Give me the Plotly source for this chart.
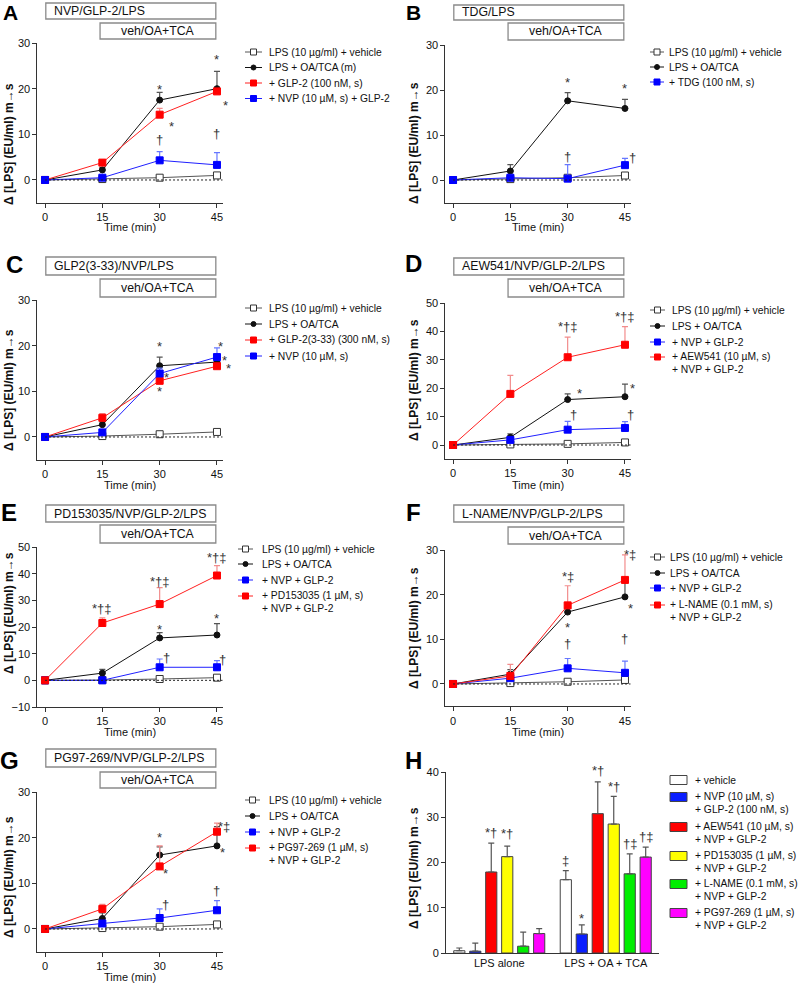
import plotly.graph_objects as go

W, H = 800, 984
FONT = "Liberation Sans, Arial, sans-serif"

time = [0, 15, 30, 45]
x_ticks = [0, 15, 30, 45]

# ---------------- Panel A ----------------
A_vehicle = [0.0, 0.2, 0.5, 1.0]
A_vehicle_err = [0.0, 0.1, 0.4, 0.2]
A_oatca = [0.0, 2.2, 17.5, 20.0]
A_oatca_err = [0.0, 0.5, 1.7, 3.8]
A_glp2 = [0.0, 3.8, 14.3, 19.4]
A_glp2_err = [0.0, 0.6, 1.4, 0.4]
A_nvp = [0.0, 0.5, 4.3, 3.3]
A_nvp_err = [0.0, 0.3, 1.9, 2.7]
A_names = ["LPS (10 µg/ml) + vehicle", "LPS + OA/TCA (m)", "+ GLP-2 (100 nM, s)", "+ NVP (10 µM, s) + GLP-2"]
A_marks = [(30, 20.5, "*"), (45, 27.0, "*"), (47.2, 17.0, "*"), (33.0, 12.4, "*"), (30, 8.9, "†"), (45, 10.2, "†")]

# ---------------- Panel B ----------------
B_vehicle = [0.0, 0.2, 0.5, 1.0]
B_vehicle_err = [0.0, 0.1, 0.3, 0.2]
B_oatca = [0.0, 2.0, 17.6, 15.9]
B_oatca_err = [0.0, 1.4, 1.8, 2.0]
B_tdg = [0.0, 0.5, 0.3, 3.3]
B_tdg_err = [0.0, 0.3, 3.1, 1.5]
B_names = ["LPS (10 µg/ml) + vehicle", "LPS + OA/TCA", "+ TDG (100 nM, s)"]
B_marks = [(30, 22.3, "*"), (45, 20.9, "*"), (30, 5.3, "†"), (47.1, 5.1, "†")]

# ---------------- Panel C ----------------
C_vehicle = [0.0, 0.2, 0.6, 1.1]
C_vehicle_err = [0.0, 0.1, 0.4, 0.2]
C_oatca = [0.0, 2.7, 15.6, 16.4]
C_oatca_err = [0.0, 0.6, 1.9, 1.0]
C_glp233 = [0.0, 4.2, 12.3, 15.5]
C_glp233_err = [0.0, 0.9, 0.8, 0.4]
C_nvp = [0.0, 1.0, 13.9, 17.5]
C_nvp_err = [0.0, 0.3, 1.2, 2.0]
C_names = ["LPS (10 µg/ml) + vehicle", "LPS + OA/TCA", "+ GLP-2(3-33) (300 nM, s)", "+ NVP (10 µM, s)"]
C_marks = [(30, 20.5, "*"), (31.8, 13.6, "*"), (30, 10.7, "*"), (46.0, 20.4, "*"), (47.0, 17.5, "*"), (48.0, 15.6, "*")]

# ---------------- Panel D ----------------
D_vehicle = [0.0, 0.2, 0.4, 0.9]
D_vehicle_err = [0.0, 0.1, 0.3, 0.3]
D_oatca = [0.0, 2.7, 16.0, 17.0]
D_oatca_err = [0.0, 1.2, 2.0, 4.4]
D_nvp = [0.0, 1.8, 5.4, 6.0]
D_nvp_err = [0.0, 0.4, 2.9, 2.2]
D_aew = [0.0, 18.0, 30.9, 35.3]
D_aew_err = [0.0, 6.5, 7.1, 6.4]
D_names = ["LPS (10 µg/ml) + vehicle", "LPS + OA/TCA", "+ NVP + GLP-2", "+ AEW541 (10 µM, s)<br>+ NVP + GLP-2"]
D_marks = [(30, 41.8, "*†‡"), (45, 45.3, "*†‡"), (33.1, 19.2, "*"), (47.0, 21.0, "*"), (31.4, 10.6, "†"), (46.4, 10.8, "†")]

# ---------------- Panel E ----------------
E_vehicle = [0.0, 0.1, 0.5, 1.0]
E_vehicle_err = [0.0, 0.1, 0.3, 0.3]
E_oatca = [0.0, 2.7, 15.9, 17.0]
E_oatca_err = [0.0, 1.4, 2.0, 4.3]
E_nvp = [0.0, 0.0, 4.9, 4.9]
E_nvp_err = [0.0, 0.2, 3.1, 2.5]
E_pd = [0.0, 21.5, 28.6, 39.3]
E_pd_err = [0.0, 1.9, 6.2, 3.7]
E_names = ["LPS (10 µg/ml) + vehicle", "LPS + OA/TCA", "+ NVP + GLP-2", "+ PD153035 (1 µM, s)<br>+ NVP + GLP-2"]
E_marks = [(15, 27.1, "*†‡"), (30, 36.9, "*†‡"), (45, 46.0, "*†‡"), (30, 20.3, "*"), (45, 24.4, "*"), (31.9, 8.5, "†"), (46.4, 7.8, "†")]

# ---------------- Panel F ----------------
F_vehicle = [0.0, 0.2, 0.5, 0.9]
F_vehicle_err = [0.0, 0.1, 0.3, 0.2]
F_oatca = [0.0, 2.2, 16.1, 19.5]
F_oatca_err = [0.0, 1.0, 1.0, 3.7]
F_nvp = [0.0, 1.3, 3.5, 2.5]
F_nvp_err = [0.0, 0.6, 2.2, 2.6]
F_lname = [0.0, 1.8, 17.6, 23.3]
F_lname_err = [0.0, 2.6, 4.4, 5.6]
F_names = ["LPS (10 µg/ml) + vehicle", "LPS + OA/TCA", "+ NVP + GLP-2", "+ L-NAME (0.1 mM, s)<br>+ NVP + GLP-2"]
F_marks = [(30, 24.0, "*‡"), (30, 13.4, "*"), (30, 9.0, "†"), (45, 10.2, "†"), (46.5, 17.5, "*"), (46.4, 29.0, "*‡")]

# ---------------- Panel G ----------------
G_vehicle = [0.0, 0.2, 0.5, 1.0]
G_vehicle_err = [0.0, 0.1, 0.3, 0.2]
G_oatca = [0.0, 2.3, 16.2, 18.2]
G_oatca_err = [0.0, 1.2, 1.8, 4.2]
G_nvp = [0.0, 1.2, 2.4, 4.1]
G_nvp_err = [0.0, 0.5, 2.0, 2.1]
G_pg = [0.0, 4.4, 13.7, 21.3]
G_pg_err = [0.0, 1.0, 4.5, 1.9]
G_names = ["LPS (10 µg/ml) + vehicle", "LPS + OA/TCA", "+ NVP + GLP-2", "+ PG97-269 (1 µM, s)<br>+ NVP + GLP-2"]
G_marks = [(30, 20.6, "*"), (31.6, 12.7, "*"), (46.5, 17.4, "*"), (46.8, 22.4, "*‡"), (31.5, 5.3, "†"), (45, 8.4, "†")]

# ---------------- Panel H (bars) ----------------
H_categories = ["LPS alone", "LPS + OA + TCA"]
H_vehicle = [0.5, 16.2]
H_vehicle_err = [0.6, 2.0]
H_nvp = [0.4, 4.2]
H_nvp_err = [1.8, 2.0]
H_aew = [17.9, 30.8]
H_aew_err = [6.4, 7.0]
H_pd = [21.3, 28.5]
H_pd_err = [2.3, 6.1]
H_lname = [1.5, 17.5]
H_lname_err = [3.1, 4.4]
H_pg = [4.3, 21.2]
H_pg_err = [1.1, 2.2]
H_names = ["+ vehicle", "+ NVP (10 µM, s)<br>+ GLP-2 (100 nM, s)", "+ AEW541 (10 µM, s)<br>+ NVP + GLP-2",
           "+ PD153035 (1 µM, s)<br>+ NVP + GLP-2", "+ L-NAME (0.1 mM, s)<br>+ NVP + GLP-2",
           "+ PG97-269 (1 µM, s)<br>+ NVP + GLP-2"]
H_colors = ["#ffffff", "#0a1eff", "#ff0000", "#ffff00", "#00ee00", "#ff00ff"]
# (category index, bar index, y, text)
H_marks = [(0, 2, 26.7, "*†"), (0, 3, 26.4, "*†"), (1, 0, 20.4, "‡"), (1, 1, 8.3, "*"),
           (1, 2, 40.3, "*†"), (1, 3, 36.8, "*†"), (1, 4, 24.1, "†‡"), (1, 5, 25.7, "†‡")]

STYLE = {
    'veh': dict(line='#555555', symbol='square', fill='#ffffff', edge='#333333', size=7, err='#666666'),
    'oa': dict(line='#111111', symbol='circle', fill='#111111', edge='#111111', size=6, err='#555555'),
    'red': dict(line='#ff2020', symbol='square', fill='#ff0000', edge='#ff0000', size=7, err='#f28c8c'),
    'blue': dict(line='#2020ff', symbol='square', fill='#0000ff', edge='#0000ff', size=7, err='#6677ff'),
}

# layout geometry in pixels
panels = [
    dict(letter='A', box="NVP/GLP-2/LPS", xpx=(37.4, 222.7), ypx=(43, 202.8), yr=[-5, 30], yt=[0, 10, 20, 30],
         b1=(3, 19), b2=(23, 39), lab=(10, 0), ttl=(9, 144), xt=227,
         leg=dict(sx=(245, 262), tx=267, rows=[52, 67.5, 83, 98.5]),
         series=[('veh', A_vehicle, A_vehicle_err), ('oa', A_oatca, A_oatca_err), ('red', A_glp2, A_glp2_err), ('blue', A_nvp, A_nvp_err)],
         names=A_names, marks=A_marks),
    dict(letter='B', box="TDG/LPS", xpx=(445.4, 630.7), ypx=(45, 202.5), yr=[-5, 30], yt=[0, 10, 20, 30],
         b1=(5, 20), b2=(23, 40), lab=(414, 0), ttl=(414, 143), xt=227,
         leg=dict(sx=(650, 664), tx=667, rows=[52, 67, 82]),
         series=[('veh', B_vehicle, B_vehicle_err), ('oa', B_oatca, B_oatca_err), ('blue', B_tdg, B_tdg_err)],
         names=B_names, marks=B_marks),
    dict(letter='C', box="GLP2(3-33)/NVP/LPS", xpx=(37.4, 222.7), ypx=(300, 459.8), yr=[-5, 30], yt=[0, 10, 20, 30],
         b1=(257, 275), b2=(279, 297), lab=(14, 264), ttl=(9, 390), xt=485,
         leg=dict(sx=(245, 262), tx=267, rows=[308, 324, 340, 356]),
         series=[('veh', C_vehicle, C_vehicle_err), ('oa', C_oatca, C_oatca_err), ('red', C_glp233, C_glp233_err), ('blue', C_nvp, C_nvp_err)],
         names=C_names, marks=C_marks),
    dict(letter='D', box="AEW541/NVP/GLP-2/LPS", xpx=(445.4, 630.7), ypx=(303, 459.2), yr=[-5, 50], yt=[0, 10, 20, 30, 40, 50],
         b1=(258, 275), b2=(279, 297), lab=(414, 263), ttl=(414, 380), xt=485,
         leg=dict(sx=(650, 665), tx=670, rows=[310, 326, 342, 357]),
         series=[('veh', D_vehicle, D_vehicle_err), ('oa', D_oatca, D_oatca_err), ('blue', D_nvp, D_nvp_err), ('red', D_aew, D_aew_err)],
         names=D_names, marks=D_marks),
    dict(letter='E', box="PD153035/NVP/GLP-2/LPS", xpx=(37.4, 222.7), ypx=(547, 707), yr=[-10, 50], yt=[-10, 0, 10, 20, 30, 40, 50],
         b1=(505, 522), b2=(525, 543), lab=(9, 512), ttl=(9, 613), xt=732,
         leg=dict(sx=(238, 253), tx=260, rows=[549, 564, 580, 596]),
         series=[('veh', E_vehicle, E_vehicle_err), ('oa', E_oatca, E_oatca_err), ('blue', E_nvp, E_nvp_err), ('red', E_pd, E_pd_err)],
         names=E_names, marks=E_marks),
    dict(letter='F', box="L-NAME/NVP/GLP-2/LPS", xpx=(445.4, 630.7), ypx=(550, 706.3), yr=[-5, 30], yt=[0, 10, 20, 30],
         b1=(505, 522), b2=(527, 544), lab=(414, 512), ttl=(414, 628), xt=732,
         leg=dict(sx=(650, 665), tx=668, rows=[557, 573, 588, 605]),
         series=[('veh', F_vehicle, F_vehicle_err), ('oa', F_oatca, F_oatca_err), ('blue', F_nvp, F_nvp_err), ('red', F_lname, F_lname_err)],
         names=F_names, marks=F_marks),
    dict(letter='G', box="PG97-269/NVP/GLP-2/LPS", xpx=(37.4, 222.7), ypx=(792, 951.8), yr=[-5, 30], yt=[0, 10, 20, 30],
         b1=(749, 767), b2=(772, 788), lab=(9, 760), ttl=(9, 877), xt=977,
         leg=dict(sx=(245, 260), tx=267, rows=[800, 816, 832, 848]),
         series=[('veh', G_vehicle, G_vehicle_err), ('oa', G_oatca, G_oatca_err), ('blue', G_nvp, G_nvp_err), ('red', G_pg, G_pg_err)],
         names=G_names, marks=G_marks),
]


def xd(l, r):
    return [l / W, r / W]


def yd(t, b):
    return [1 - b / H, 1 - t / H]


def px(p):
    return p / W


def py(p):
    return 1 - p / H


fig = go.Figure()
layout = dict(width=W, height=H, margin=dict(l=0, r=0, t=0, b=0, autoexpand=False), plot_bgcolor='white',
              paper_bgcolor='white', font=dict(family=FONT, size=11, color='#111'), showlegend=False,
              shapes=[], annotations=[])
shapes = layout['shapes']
anns = layout['annotations']

XR = [-2, 46.5]
box1_x = [0.2, 44.7]
box2_x = [14.4, 44.7]
LEG_FONT = dict(size=10.3, color='#111')
MARK_FONT = dict(size=13, color='#333')
BOX_FONT = dict(size=12.3, color='#111')
LETTER_FONT = dict(size=24, color='#000')


def text_ann(x, y, text, xanchor='left', font=LEG_FONT, multiline=False):
    if multiline:
        return dict(xref='paper', yref='paper', x=px(x), y=py(y - 8), xanchor=xanchor, yanchor='top', text=text,
                    align='left', showarrow=False, font=font)
    return dict(xref='paper', yref='paper', x=px(x), y=py(y), xanchor=xanchor, yanchor='middle', text=text,
                showarrow=False, font=font)


def letter_ann(x, y, letter):
    if y <= 0:
        # top row: anchor to the top edge so the letter is not cut off
        return dict(xref='paper', yref='paper', x=px(x), y=1, xanchor='center', yanchor='top', borderpad=0,
                    text='<b>%s</b>' % letter, showarrow=False, font=dict(size=21, color='#000'))
    return text_ann(x, y, '<b>%s</b>' % letter, xanchor='center', font=LETTER_FONT)


for i, p in enumerate(panels, start=1):
    sfx = '' if i == 1 else str(i)
    xa, ya = 'x' + sfx, 'y' + sfx
    for (kind, yv, ev), nm in zip(p['series'], p['names']):
        st = STYLE[kind]
        fig.add_trace(go.Scatter(
            x=time, y=yv, name=nm.replace('<br>', ' '), xaxis=xa, yaxis=ya, mode='lines+markers', cliponaxis=False,
            line=dict(color=st['line'], width=1),
            marker=dict(symbol=st['symbol'], size=st['size'], color=st['fill'], line=dict(color=st['edge'], width=1)),
            error_y=dict(type='data', symmetric=False, array=ev, arrayminus=[0] * len(ev), color=st['err'],
                         thickness=1.2, width=3)))
    x0p, x1p = p['xpx']
    t0p, b0p = p['ypx']
    ppx = (x1p - x0p) / (XR[1] - XR[0])
    ppy = (b0p - t0p) / (p['yr'][1] - p['yr'][0])
    layout['xaxis' + sfx] = dict(domain=xd(x0p, x1p), anchor=ya, range=XR, tickvals=x_ticks, showline=True,
                                 linecolor='#333', linewidth=1, ticks='outside', ticklen=4, tickcolor='#333',
                                 showgrid=False, zeroline=False, tickfont=dict(size=11))
    layout['yaxis' + sfx] = dict(domain=yd(t0p, b0p), anchor=xa, range=p['yr'], tickvals=p['yt'], showline=True,
                                 linecolor='#333', linewidth=1, ticks='outside', ticklen=4, tickcolor='#333',
                                 showgrid=False, zeroline=False, tickfont=dict(size=11))
    # dotted zero line
    shapes.append(dict(type='line', xref=xa, yref=ya, x0=0, x1=XR[1], y0=0, y1=0,
                       line=dict(color='#222', width=1, dash='2px,2px')))
    # treatment boxes
    for bx, (bt, bb) in ((box1_x, p['b1']), (box2_x, p['b2'])):
        shapes.append(dict(type='rect', xref=xa, yref='paper', x0=bx[0], x1=bx[1], y0=py(bb), y1=py(bt),
                           line=dict(color='#8a8a8a', width=1.3), fillcolor='white', layer='below'))
    anns.append(dict(xref=xa, yref='paper', x=box1_x[0], xanchor='left', xshift=6,
                     y=py((p['b1'][0] + p['b1'][1]) / 2), yanchor='middle', text=p['box'],
                     showarrow=False, font=BOX_FONT))
    anns.append(dict(xref=xa, yref='paper', x=(box2_x[0] + box2_x[1]) / 2, xanchor='center',
                     y=py((p['b2'][0] + p['b2'][1]) / 2), yanchor='middle', text="veh/OA+TCA",
                     showarrow=False, font=BOX_FONT))
    # panel letter
    anns.append(letter_ann(p['lab'][0], p['lab'][1], p['letter']))
    # axis titles
    anns.append(dict(xref='paper', yref='paper', x=px(p['ttl'][0]), y=py(p['ttl'][1]),
                     xanchor='center', yanchor='middle', textangle=-90,
                     text='<b>Δ [LPS] (EU/ml) m→s</b>', showarrow=False, font=dict(size=12, color='#111')))
    anns.append(text_ann((x0p + x1p) / 2, p['xt'], 'Time (min)', xanchor='center', font=dict(size=11, color='#111')))
    # significance marks (kept inside the axis range, offset in pixels)
    for (mx, my, mt) in p['marks']:
        mxa = min(mx, 45.0)
        mya = min(my, p['yr'][1])
        anns.append(dict(xref=xa, yref=ya, x=mxa, y=mya, text=mt, showarrow=False,
                         xanchor='center', yanchor='middle', xshift=(mx - mxa) * ppx,
                         yshift=(my - mya) * ppy + (-3 if mt == '*' else 0), font=MARK_FONT))
    # manual legend
    lg = p['leg']
    sx0, sx1 = lg['sx']
    for (kind, _, _), nm, ry in zip(p['series'], p['names'], lg['rows']):
        st = STYLE[kind]
        shapes.append(dict(type='line', xref='paper', yref='paper', x0=px(sx0), x1=px(sx1), y0=py(ry), y1=py(ry),
                           line=dict(color=st['line'], width=1)))
        cx = (sx0 + sx1) / 2
        r = (st['size'] - 1) / 2
        shapes.append(dict(type='circle' if st['symbol'] == 'circle' else 'rect', xref='paper', yref='paper',
                           x0=px(cx - r), x1=px(cx + r), y0=py(ry + r), y1=py(ry - r),
                           fillcolor=st['fill'], line=dict(color=st['edge'], width=1)))
        anns.append(text_ann(lg['tx'], ry, nm, multiline='<br>' in nm))

# ---------------- Panel H ----------------
H_series = [H_vehicle, H_nvp, H_aew, H_pd, H_lname, H_pg]
H_errs = [H_vehicle_err, H_nvp_err, H_aew_err, H_pd_err, H_lname_err, H_pg_err]
for yv, ev, nm, col in zip(H_series, H_errs, H_names, H_colors):
    fig.add_trace(go.Bar(x=H_categories, y=yv, name=nm.replace('<br>', ' '), xaxis='x8', yaxis='y8',
                         marker=dict(color=col, line=dict(color='#444', width=1)),
                         error_y=dict(type='data', symmetric=False, array=ev, arrayminus=[0, 0], color='#555',
                                      thickness=1.2, width=3)))
layout['barmode'] = 'group'
layout['bargap'] = 0.1
layout['bargroupgap'] = 0.3
HX, HY = (446, 659), (772, 953)
layout['xaxis8'] = dict(domain=xd(*HX), anchor='y8', showline=True, linecolor='#333', linewidth=1,
                        ticks='', showgrid=False, zeroline=False, tickfont=dict(size=11), range=[-0.5, 1.5])
layout['yaxis8'] = dict(domain=yd(*HY), anchor='x8', range=[0, 40], tickvals=[0, 10, 20, 30, 40],
                        showline=True, linecolor='#333', linewidth=1, ticks='outside', ticklen=4,
                        tickcolor='#333', showgrid=False, zeroline=False, tickfont=dict(size=11))
anns.append(letter_ann(414, 760, 'H'))
anns.append(dict(xref='paper', yref='paper', x=px(414), y=py(868), xanchor='center',
                 yanchor='middle', textangle=-90, text='<b>Δ [LPS] (EU/ml) m→s</b>',
                 showarrow=False, font=dict(size=12, color='#111')))
hppy = (HY[1] - HY[0]) / 40.0
for (ci, bi, my, mt) in H_marks:
    mya = min(my, 40.0)
    anns.append(dict(xref='x8', yref='y8', x=ci + (bi - 2.5) * 0.15, y=mya, text=mt,
                     showarrow=False, xanchor='center', yanchor='middle',
                     yshift=(my - mya) * hppy + (-3 if mt == '*' else 0), font=MARK_FONT))
# H legend (swatches)
H_rows = [780, 797, 827, 856, 884, 913]
for nm, col, ry in zip(H_names, H_colors, H_rows):
    shapes.append(dict(type='rect', xref='paper', yref='paper', x0=px(670), x1=px(687), y0=py(ry + 4.5),
                       y1=py(ry - 4.5), fillcolor=col, line=dict(color='#444', width=1)))
    anns.append(text_ann(693, ry, nm, multiline='<br>' in nm))

fig.update_layout(**layout)
fig.write_html("out.html", config={'displayModeBar': False},
               post_script="document.body.style.margin='0';document.body.style.padding='0';"
                           "document.documentElement.style.overflow='hidden';")
